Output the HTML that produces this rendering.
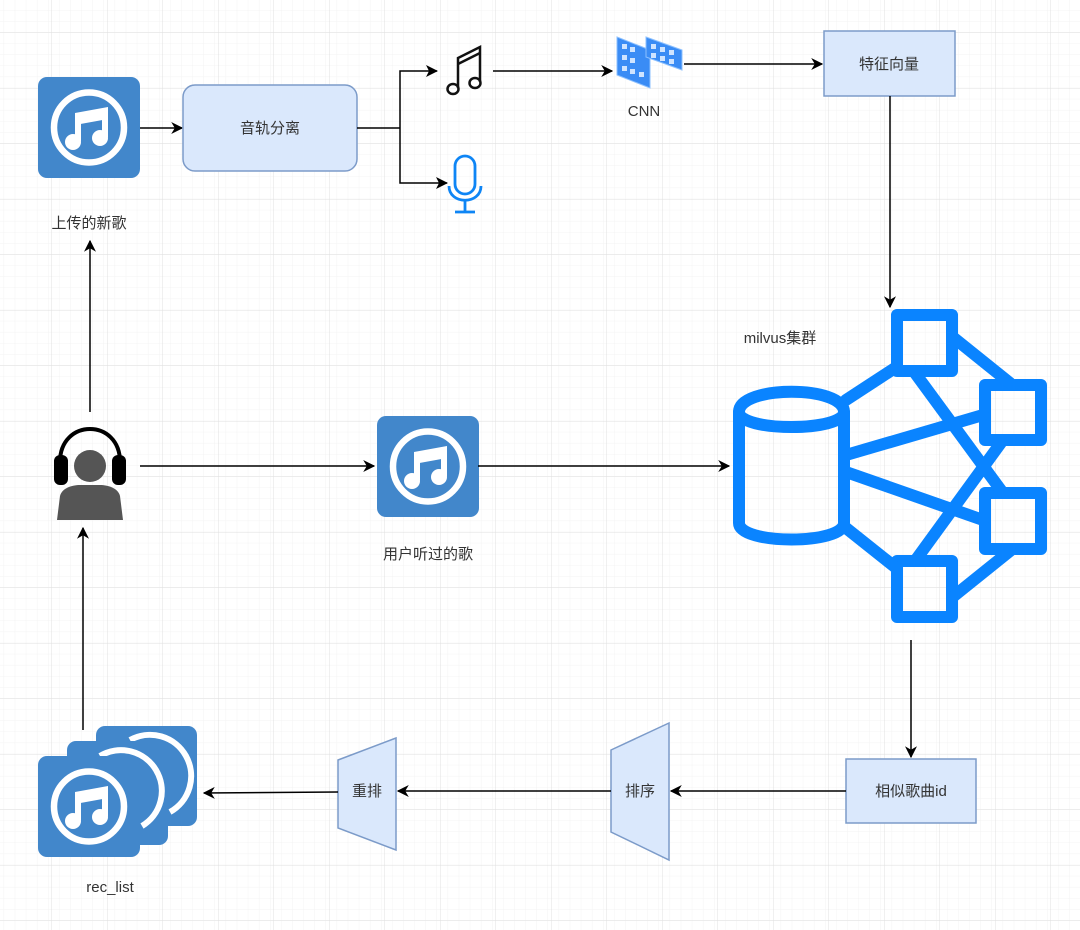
<!DOCTYPE html>
<html><head><meta charset="utf-8"><style>
html,body{margin:0;padding:0;background:#fff;}
svg{display:block;}
text{font-family:"Liberation Sans","Noto Sans CJK SC",sans-serif;fill:#333;font-size:15px;}
</style></head><body>
<svg width="1080" height="930" viewBox="0 0 1080 930" xmlns="http://www.w3.org/2000/svg">
<defs>
<pattern id="minor" x="-3.5" y="-22.5" width="11.1" height="11.1" patternUnits="userSpaceOnUse">
<path d="M11.1 0V11.1M0 11.1H11.1" fill="none" stroke="#f3f3f3" stroke-width="1"/>
</pattern>
<pattern id="major" x="-3.5" y="-22.5" width="55.5" height="55.5" patternUnits="userSpaceOnUse">
<rect width="55.5" height="55.5" fill="url(#minor)"/>
<path d="M55.5 0V55.5M0 55.5H55.5" fill="none" stroke="#e0e0e0" stroke-width="1"/>
</pattern>
<marker id="ar" viewBox="0 0 10 10" refX="9" refY="5" markerWidth="12" markerHeight="12" markerUnits="userSpaceOnUse" orient="auto">
<path d="M0 0L10 5L0 10L3 5Z" fill="#000"/>
</marker>
<g id="mus">
<rect x="0" y="0" width="102" height="101" rx="9" fill="#4287cb"/>
<circle cx="51" cy="50.5" r="35" fill="none" stroke="#fff" stroke-width="6.5"/>
<path d="M40 38V64M67 33V60" fill="none" stroke="#fff" stroke-width="6"/>
<path d="M37 36L70 30V42L37 48Z" fill="#fff"/>
<circle cx="35" cy="65" r="8" fill="#fff"/>
<circle cx="62" cy="61" r="8" fill="#fff"/>
</g>
</defs>
<rect width="1080" height="930" fill="url(#major)"/>

<use href="#mus" x="38" y="77"/>
<text x="89" y="228" text-anchor="middle">上传的新歌</text>
<line x1="140" y1="128" x2="182" y2="128" stroke="#000" stroke-width="1.5" marker-end="url(#ar)"/>
<rect x="183" y="85" width="174" height="86" rx="12" fill="#dae8fc" stroke="#7c9bc9" stroke-width="1.5"/>
<text x="270" y="133" text-anchor="middle">音轨分离</text>
<path d="M357 128H400V71H437M400 128V183H447" fill="none" stroke="#000" stroke-width="1.5"/>
<path d="M426 65L438 71L426 77L429 71Z M436 177L448 183L436 189L439 183Z" fill="#000"/>
<g fill="none" stroke="#111" stroke-width="2.5">
<path d="M458 88V58L480 47V82"/><path d="M458 64L480 53"/>
<ellipse cx="453" cy="89" rx="5.5" ry="5"/><ellipse cx="475" cy="83" rx="5.5" ry="5"/>
</g>
<g fill="none" stroke="#0e85f5" stroke-width="2.8">
<rect x="455" y="156" width="20" height="38" rx="10"/>
<path d="M449 186C449 205 481 205 481 186"/>
<path d="M465 201V211M455 212H475"/>
</g>
<line x1="493" y1="71" x2="612" y2="71" stroke="#000" stroke-width="1.5" marker-end="url(#ar)"/>
<g>
<path d="M617 37L650 50V88L617 75Z" fill="#3a8cf5" stroke="#8cc0ff"/>
<path d="M646 37L682 50V70L646 57Z" fill="#3a8cf5" stroke="#8cc0ff"/>
<g fill="#cfe4ff">
<rect x="622" y="44" width="5" height="5"/><rect x="630" y="47" width="5" height="5"/><rect x="622" y="55" width="5" height="5"/><rect x="630" y="58" width="5" height="5"/><rect x="622" y="66" width="5" height="5"/><rect x="630" y="69" width="5" height="5"/><rect x="639" y="72" width="5" height="5"/>
<rect x="651" y="44" width="5" height="5"/><rect x="660" y="47" width="5" height="5"/><rect x="669" y="50" width="5" height="5"/><rect x="651" y="53" width="5" height="5"/><rect x="660" y="56" width="5" height="5"/><rect x="669" y="59" width="5" height="5"/>
</g>
</g>
<text x="644" y="116" text-anchor="middle">CNN</text>
<line x1="684" y1="64" x2="822" y2="64" stroke="#000" stroke-width="1.5" marker-end="url(#ar)"/>
<rect x="824" y="31" width="131" height="65" fill="#dae8fc" stroke="#7c9bc9" stroke-width="1.5"/>
<text x="889" y="69" text-anchor="middle">特征向量</text>
<line x1="890" y1="96" x2="890" y2="307" stroke="#000" stroke-width="1.5" marker-end="url(#ar)"/>

<text x="780" y="343" text-anchor="middle">milvus集群</text>
<g fill="none" stroke="#0a84ff" stroke-width="12" stroke-linejoin="round" stroke-linecap="round">
<path d="M739 412C739 385 844 385 844 412C844 432 739 432 739 412Z"/>
<path d="M739 412V523C739 545 844 545 844 523V412"/>
<rect x="897" y="315" width="55" height="56"/>
<rect x="985" y="385" width="56" height="55"/>
<rect x="985" y="493" width="56" height="56"/>
<rect x="897" y="561" width="55" height="56"/>
<path d="M846 400L895 368M846 455L983 415M846 472L983 520M846 528L895 567M915 373L1003 493M915 561L1003 440M954 338L1010 383M954 596L1010 551"/>
</g>

<g>
<path d="M60 462C60 418 120 418 120 462" fill="none" stroke="#000" stroke-width="4"/>
<rect x="54" y="455" width="14" height="30" rx="6" fill="#000"/>
<rect x="112" y="455" width="14" height="30" rx="6" fill="#000"/>
<circle cx="90" cy="466" r="16" fill="#555"/>
<path d="M57 520L60 496C62 488 72 485 80 485H100C108 485 118 488 120 496L123 520Z" fill="#555"/>
</g>
<line x1="140" y1="466" x2="374" y2="466" stroke="#000" stroke-width="1.5" marker-end="url(#ar)"/>
<use href="#mus" x="377" y="416"/>
<text x="428" y="559" text-anchor="middle">用户听过的歌</text>
<line x1="478" y1="466" x2="729" y2="466" stroke="#000" stroke-width="1.5" marker-end="url(#ar)"/>
<line x1="90" y1="412" x2="90" y2="241" stroke="#000" stroke-width="1.5" marker-end="url(#ar)"/>

<line x1="911" y1="640" x2="911" y2="757" stroke="#000" stroke-width="1.5" marker-end="url(#ar)"/>
<rect x="846" y="759" width="130" height="64" fill="#dae8fc" stroke="#7c9bc9" stroke-width="1.5"/>
<text x="911" y="796" text-anchor="middle">相似歌曲id</text>
<line x1="846" y1="791" x2="671" y2="791" stroke="#000" stroke-width="1.5" marker-end="url(#ar)"/>
<path d="M611 750L669 723V860L611 832Z" fill="#dae8fc" stroke="#7c9bc9" stroke-width="1.5"/>
<text x="640" y="796" text-anchor="middle">排序</text>
<line x1="611" y1="791" x2="398" y2="791" stroke="#000" stroke-width="1.5" marker-end="url(#ar)"/>
<path d="M338 760L396 738V850L338 828Z" fill="#dae8fc" stroke="#7c9bc9" stroke-width="1.5"/>
<text x="367" y="796" text-anchor="middle">重排</text>
<line x1="338" y1="792" x2="204" y2="793" stroke="#000" stroke-width="1.5" marker-end="url(#ar)"/>
<g>
<rect x="96" y="726" width="101" height="100" rx="9" fill="#4287cb"/>
<path d="M130 740A35 35 0 0 1 170 812" fill="none" stroke="#fff" stroke-width="6"/>
<rect x="67" y="741" width="101" height="104" rx="9" fill="#4287cb"/>
<path d="M100 756A35 35 0 0 1 142 826" fill="none" stroke="#fff" stroke-width="6"/>
<use href="#mus" x="38" y="756"/>
</g>
<line x1="83" y1="730" x2="83" y2="528" stroke="#000" stroke-width="1.5" marker-end="url(#ar)"/>
<text x="110" y="892" text-anchor="middle">rec_list</text>
</svg>
</body></html>
